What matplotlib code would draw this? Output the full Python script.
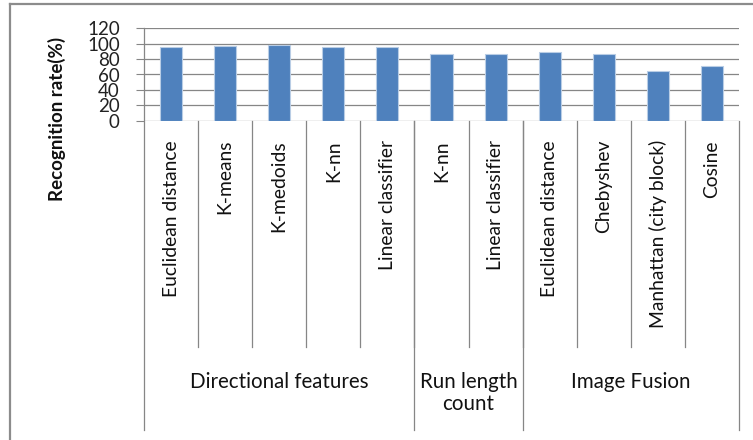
import matplotlib.pyplot as plt
import matplotlib.transforms as mtransforms
from matplotlib.lines import Line2D

plt.rcParams['font.family'] = ['Lato', 'DejaVu Sans']

# recognition rate per method
methods = ["Euclidean distance", "K-means", "K-medoids", "K-nn", "Linear classifier",
           "K-nn", "Linear classifier",
           "Euclidean distance", "Chebyshev", "Manhattan (city block)", "Cosine"]
rates = [95, 96.5, 98, 95, 95, 87, 87, 88.5, 86, 65, 71.5]

# feature groups: (label, first index, last index)
groups = ["Directional features", "Run length\ncount", "Image Fusion"]
group_start = [0, 5, 7]
group_end = [4, 6, 10]

yticks = [0, 20, 40, 60, 80, 100, 120]

W, H = 753, 440
fig = plt.figure(figsize=(W / 100, H / 100), dpi=100)
ax = fig.add_axes([144 / W, 1 - 121 / H, (739 - 144) / W, 93 / H])

x = list(range(len(methods)))
ax.bar(x, rates, width=0.41, color="#4F81BD", edgecolor="#B9CDE5", linewidth=0.8, zorder=3)

ax.set_xlim(-0.5, len(methods) - 0.5)
ax.set_ylim(0, 120)
ax.set_yticks(yticks)
ax.set_yticklabels([str(v) for v in yticks], fontsize=13.5, color="#222222")
ax.tick_params(axis="y", direction="out", length=5.5, width=0.8, color="#868686", pad=12)
ax.set_xticks([])
ax.yaxis.grid(True, color="#868686", linewidth=0.9, zorder=0)
ax.set_axisbelow(True)
for s in ax.spines.values():
    s.set_visible(False)


def fy(py):
    return 1 - py / H


fig.text(57 / W, fy(119), "Recognition rate(%)", rotation=90, ha="center", va="center",
         fontsize=13.5, fontweight="bold", color="#111111")

# x in data units, y in figure fraction
tr = mtransforms.blended_transform_factory(ax.transData, fig.transFigure)

line_kw = dict(color="#868686", linewidth=0.9, transform=tr, clip_on=False)

# left axis line running down through the category area
ax.add_line(Line2D([-0.5, -0.5], [fy(28), fy(430)], **line_kw))

# separators between methods
for i in range(1, len(methods)):
    ax.add_line(Line2D([i - 0.5, i - 0.5], [fy(121), fy(347)], **line_kw))

# longer separators between groups
for e in group_end:
    ax.add_line(Line2D([e + 0.5, e + 0.5], [fy(121), fy(430)], **line_kw))

# method labels
for i, m in enumerate(methods):
    ax.text(i, fy(140), m, rotation=90, ha="center", va="top", fontsize=13.9,
            color="#111111", transform=tr)

# group labels
for g, a, b in zip(groups, group_start, group_end):
    ax.text((a + b) / 2, fy(372), g, ha="center", va="top", fontsize=14.8,
            color="#111111", linespacing=1.15, transform=tr)

# outer chart frame
fig.add_artist(Line2D([10 / W, 10 / W], [0, fy(4)], color="#8c8c8c", linewidth=1.6,
                      transform=fig.transFigure))
fig.add_artist(Line2D([10 / W, 1], [fy(4), fy(4)], color="#8c8c8c", linewidth=1.6,
                      transform=fig.transFigure))

fig.savefig("out.png", dpi=100)
